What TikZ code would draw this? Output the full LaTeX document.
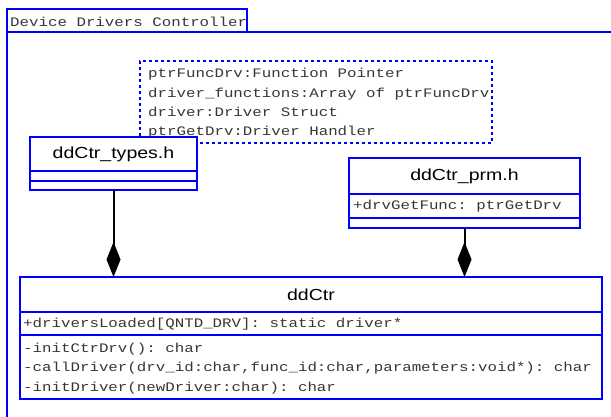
\documentclass[tikz,border=0pt]{standalone}
\usepackage{fontspec}
\setmainfont{Liberation Sans}
\newfontfamily\monof[FakeStretch=1.215]{Liberation Mono}
\newfontfamily\titlef[FakeStretch=1.22]{Liberation Sans}
\newcommand\monosel{\monof\fontsize{13}{19.3}\selectfont}
\newcommand\titlesel{\titlef\fontsize{16}{19}\selectfont}
\usetikzlibrary{arrows.meta}
\definecolor{umlblue}{RGB}{0,0,255}
\definecolor{txtgray}{RGB}{55,55,55}
\begin{document}
\begin{tikzpicture}[x=1pt,y=-1pt,
  frame/.style={draw=umlblue,line width=2.6pt,line join=miter},
  sect/.style={frame,fill=white,anchor=north west,inner sep=0pt,outer sep=0pt},
  titlebox/.style={sect,font=\titlesel},
  monotxt/.style={font=\monosel,text=txtgray,inner sep=0pt,anchor=west,align=left,
    execute at begin node={\spaceskip=9.477pt\xspaceskip=9.477pt\relax}},
  notebox/.style={draw=umlblue,line width=2.6pt,dash pattern=on 3pt off 3pt,fill=white,anchor=north west,outer sep=0pt,inner sep=0pt},
  conn/.style={draw=black,line width=2pt,-{Diamond[length=35pt,width=14pt]}}
]
\useasboundingbox (0,0) rectangle (611,417);
% package
\node[sect,minimum width=240pt,minimum height=23pt] (tab) at (7,9) {};
\node[monotxt] (tabtxt) at (10,21.5) {Device Drivers Controller};
\draw[frame] (7,418) -- (tab.south west) -- (612,32);
% note
\node[notebox,minimum width=352pt,minimum height=82pt] (note) at (140,61) {};
\node[monotxt] (notetxt) at (148,103.5)
  {ptrFuncDrv:Function Pointer\\driver\_functions:Array of ptrFuncDrv\\driver:Driver Struct\\ptrGetDrv:Driver Handler};
% ddCtr_types.h
\node[titlebox,minimum width=167pt,minimum height=34pt] (typesT) at (30,137) {ddCtr\_types.h};
\node[sect,minimum width=167pt,minimum height=10pt] (typesA) at (30,171) {};
\node[sect,minimum width=167pt,minimum height=9pt] (typesO) at (30,181) {};
% ddCtr_prm.h
\node[titlebox,minimum width=231pt,minimum height=36pt] (prmT) at (349,158) {ddCtr\_prm.h};
\node[sect,minimum width=231pt,minimum height=24pt] (prmA) at (349,194) {};
\node[monotxt] (prmAtxt) at (353,206.5) {+drvGetFunc: ptrGetDrv};
\node[sect,minimum width=231pt,minimum height=10pt] (prmO) at (349,218) {};
% ddCtr
\node[titlebox,minimum width=582pt,minimum height=35pt] (ddT) at (20,277) {ddCtr};
\node[sect,minimum width=582pt,minimum height=23pt] (ddA) at (20,312) {};
\node[monotxt] (ddAtxt) at (23,324) {+driversLoaded[QNTD\_DRV]: static driver*};
\node[sect,minimum width=582pt,minimum height=64pt] (ddO) at (20,335) {};
\node[monotxt] (ddOtxt) at (23,368.5)
  {-initCtrDrv(): char\\-callDriver(drv\_id:char,func\_id:char,parameters:void*): char\\-initDriver(newDriver:char): char};
% connectors
\draw[conn] (typesO.south) -- (typesO.south |- ddT.north);
\draw[conn] (prmO.south) -- (prmO.south |- ddT.north);
\end{tikzpicture}
\end{document}
